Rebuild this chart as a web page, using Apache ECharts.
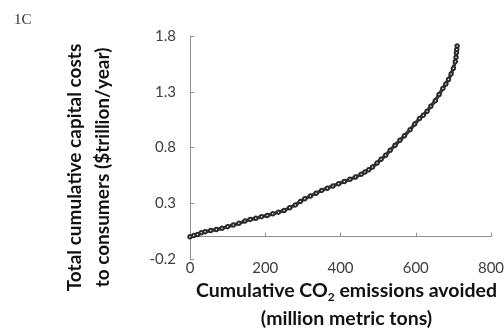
<!DOCTYPE html>
<html>
<head>
<meta charset="utf-8">
<script src="https://cdn.jsdelivr.net/npm/echarts@6/dist/echarts.min.js"></script>
<style>
  html, body { margin: 0; padding: 0; background: #fff; }
  #chart { width: 504px; height: 331px; }
</style>
</head>
<body>
<div id="chart"></div>
<script>
// cumulative CO2 avoided (million metric tons)
const co2Avoided = [0, 10, 20, 30, 40, 55, 70, 85, 100, 115, 130, 146, 160, 175, 190, 205, 220, 235, 250, 265,
  280, 293, 305, 320, 335, 350, 365, 380, 395, 410, 425, 440, 455, 465, 475, 485, 497, 508, 520, 532,
  545, 558, 570, 585, 597, 610, 620, 630, 640, 652, 662, 672, 680, 687, 694, 700, 705, 707, 708, 709, 710];
// total cumulative capital costs ($trillion/year)
const capitalCost = [0, 0.01, 0.02, 0.035, 0.045, 0.055, 0.065, 0.075, 0.09, 0.105, 0.12, 0.14, 0.155, 0.165, 0.18, 0.19, 0.205, 0.22, 0.235, 0.26,
  0.285, 0.315, 0.34, 0.365, 0.39, 0.415, 0.435, 0.455, 0.475, 0.495, 0.515, 0.535, 0.56, 0.58, 0.6, 0.625, 0.66, 0.695, 0.73, 0.775,
  0.82, 0.865, 0.905, 0.96, 1.01, 1.06, 1.09, 1.125, 1.17, 1.22, 1.275, 1.33, 1.37, 1.41, 1.46, 1.51, 1.57, 1.61, 1.65, 1.68, 1.71];
const yTicks = [-0.2, 0.3, 0.8, 1.3, 1.8];

const chart = echarts.init(document.getElementById('chart'));

const font = 'Lato, "Open Sans", sans-serif';
const axisGrey = '#8f8f8f';

const option = {
  animation: false,
  title: {
    text: '1C',
    left: 9,
    top: 8,
    textStyle: { fontFamily: '"Liberation Serif", serif', fontWeight: 'normal', fontSize: 15, color: '#333' }
  },
  grid: { left: 190, right: 13, top: 36, bottom: 72, containLabel: false, outerBoundsMode: 'none' },
  xAxis: [
    {
      // axis line crossing at y = 0, ticks only
      type: 'value',
      min: 0,
      max: 800,
      interval: 200,
      axisLine: { onZero: true, lineStyle: { color: axisGrey, width: 1 } },
      axisTick: { inside: true, length: 4, lineStyle: { color: axisGrey } },
      axisLabel: { show: false },
      splitLine: { show: false }
    },
    {
      // labels and title sit at the bottom of the plot
      type: 'value',
      position: 'bottom',
      min: 0,
      max: 800,
      interval: 200,
      axisLine: { show: false, onZero: false },
      axisTick: { show: false },
      axisLabel: { margin: 2, fontSize: 15, fontFamily: font, color: '#404040' },
      splitLine: { show: false },
      name: '{b|Cumulative CO}{s|2}{b| emissions avoided}\n{b|(million metric tons)}',
      nameLocation: 'middle',
      nameGap: 18,
      nameMoveOverlap: false,
      nameTextStyle: {
        padding: [0, 0, 0, 12],
        rich: {
          b: { fontSize: 19.5, fontWeight: 'bold', fontFamily: font, color: '#111', lineHeight: 28 },
          s: { fontSize: 12, fontWeight: 'bold', fontFamily: font, color: '#111', lineHeight: 28, padding: [12, 0, 0, 0] }
        }
      }
    }
  ],
  yAxis: {
    type: 'value',
    min: -0.2,
    max: 1.8,
    axisLine: { show: true, lineStyle: { color: axisGrey, width: 1 } },
    axisTick: { show: true, inside: true, length: 4, customValues: yTicks, lineStyle: { color: axisGrey } },
    axisLabel: { margin: 14, fontSize: 15, fontFamily: font, color: '#404040', customValues: yTicks },
    splitLine: { show: false },
    name: 'Total cumulative capital costs\nto consumers ($trillion/year)',
    nameLocation: 'middle',
    nameRotate: 90,
    nameGap: 73,
    nameMoveOverlap: false,
    nameTextStyle: { fontSize: 19, fontWeight: 'bold', fontFamily: font, color: '#111', lineHeight: 28, padding: [0, 40, 0, 0] }
  },
  series: [
    {
      type: 'line',
      xAxisIndex: 0,
      data: co2Avoided.map((x, i) => [x, capitalCost[i]]),
      symbol: 'emptyCircle',
      symbolSize: 3.5,
      showSymbol: true,
      itemStyle: { color: '#2a2a2a', borderWidth: 1 },
      lineStyle: { color: '#3a3a3a', width: 3.5 }
    }
  ]
};

chart.setOption(option);
</script>
</body>
</html>
